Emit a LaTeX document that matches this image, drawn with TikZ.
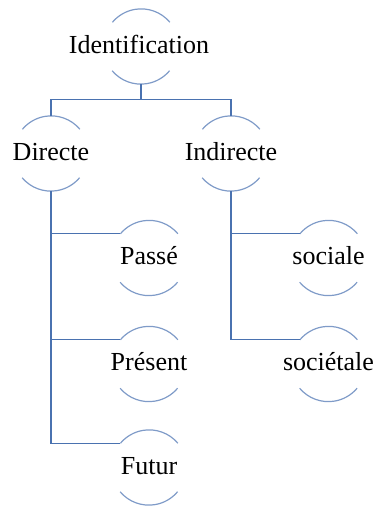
\documentclass[tikz,border=0pt]{standalone}
\usepackage{fontspec}
\setmainfont{Liberation Serif}
\definecolor{linec}{HTML}{4A72B0}
\definecolor{arcc}{HTML}{7F9BC8}
\begin{document}
\begin{tikzpicture}[x=1pt,y=1pt,
  ring/.style={circle,draw=none,minimum size=75pt,inner sep=0pt},
  lbl/.style={anchor=base,font=\fontsize{26}{29}\selectfont,inner sep=0pt},
  conn/.style={draw=linec,line width=1.2pt},
  arcline/.style={draw=arcc,line width=1.2pt}]
\useasboundingbox (0,0) rectangle (377,506);
% circles (y-up: y' = 506 - y)
\node[ring] (id)  at (141,459.5) {};
\node[ring] (dir) at (51,352.5) {};
\node[ring] (ind) at (231,352.5) {};
\node[ring] (pa)  at (149,248) {};
\node[ring] (pr)  at (149,142) {};
\node[ring] (fu)  at (149,38.5) {};
\node[ring] (so)  at (328.5,248) {};
\node[ring] (st)  at (328.5,142) {};
% labels
\node[lbl] (tid)  at ([xshift=-2pt,yshift=-7.5pt]id.center)  {Identification};
\node[lbl] (tdir) at ([yshift=-7pt]dir.center) {Directe};
\node[lbl] (tind) at ([yshift=-7pt]ind.center) {Indirecte};
\node[lbl] (tpa)  at ([yshift=-7pt]pa.center)  {Passé};
\node[lbl] (tpr)  at ([yshift=-7pt]pr.center)  {Présent};
\node[lbl] (tfu)  at ([yshift=-7pt]fu.center)  {Futur};
\node[lbl] (tso)  at ([yshift=-7pt]so.center)  {sociale};
\node[lbl] (tst)  at ([yshift=-7pt]st.center)  {sociétale};
% arcs
\foreach \n in {id,dir,ind,pa,pr,fu,so,st}{
  \draw[arcline] (\n.40) arc[start angle=40,end angle=140,radius=37.5pt];
  \draw[arcline] (\n.220) arc[start angle=220,end angle=320,radius=37.5pt];
}
% connectors
\coordinate (bar) at (141,406.5);
\draw[conn] (id.south) -- (bar);
\draw[conn] (dir.north) |- (bar) -| (ind.north);
\draw[conn] (dir.south) |- (pa.140);
\draw[conn] (dir.south) |- (pr.140);
\draw[conn] (dir.south) |- (fu.140);
\draw[conn] (ind.south) |- (so.140);
\draw[conn] (ind.south) |- (st.140);
\end{tikzpicture}
\end{document}
